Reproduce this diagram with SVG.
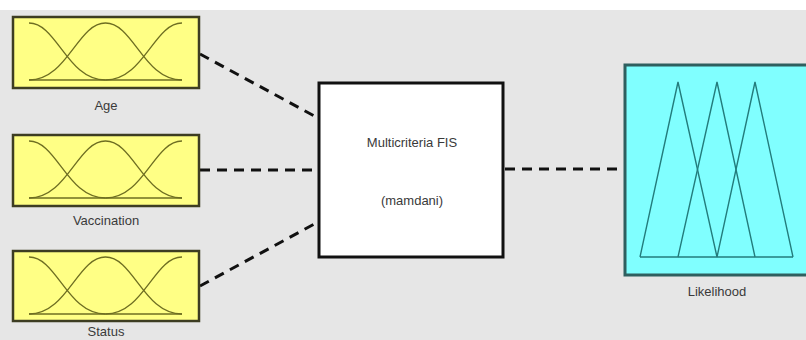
<svg xmlns="http://www.w3.org/2000/svg" width="806" height="340" viewBox="0 0 806 340">
  <style>
    .in-box { fill: #ffff85; stroke: #3d3d22; stroke-width: 2.5; }
    .mf { fill: none; stroke: #6e6e22; stroke-width: 1.3; }
    .out-box { fill: #80ffff; stroke: #2f5f5f; stroke-width: 3; }
    .tri { fill: none; stroke: #237c7c; stroke-width: 1.4; }
    .fis-box { fill: #ffffff; stroke: #111111; stroke-width: 3; }
    .label { font-family: "Liberation Sans", Arial, sans-serif; font-size: 13px; fill: #3a3a3a; text-anchor: middle; }
    .link { fill: none; stroke: #111111; stroke-width: 3; stroke-dasharray: 10 7; }
  </style>
  <defs>
    <!-- three gaussian membership functions, relative to the box's top-left corner -->
    <g id="gauss3">
      <path class="mf" d="M16,6 C44,6 54,63 92.5,63"/>
      <path class="mf" d="M16,63 C54.5,63 64.5,6 92.5,6 C120.5,6 130.5,63 169,63"/>
      <path class="mf" d="M92.5,63 C131,63 141,6 169,6"/>
      <path class="mf" d="M16,63 H169"/>
    </g>
  </defs>

  <!-- canvas -->
  <rect x="0" y="0" width="806" height="340" fill="#ffffff"/>
  <rect x="0" y="10" width="806" height="330" fill="#e6e6e6"/>

  <!-- connectors -->
  <g id="connectors">
    <path class="link" d="M200,54 L318,118"/>
    <path class="link" d="M200,170 L318,170"/>
    <path class="link" d="M200,286 L318,222"/>
    <path class="link" d="M505,169 L624,169"/>
  </g>

  <!-- input: Age -->
  <g id="age">
    <rect class="in-box" x="13" y="17" width="186" height="71"/>
    <use href="#gauss3" x="13" y="17"/>
    <text class="label" x="106" y="110">Age</text>
  </g>

  <!-- input: Vaccination -->
  <g id="vaccination">
    <rect class="in-box" x="13" y="135" width="186" height="71"/>
    <use href="#gauss3" x="13" y="135"/>
    <text class="label" x="106" y="225">Vaccination</text>
  </g>

  <!-- input: Status -->
  <g id="status">
    <rect class="in-box" x="13" y="251" width="186" height="70"/>
    <use href="#gauss3" x="13" y="251"/>
    <text class="label" x="106" y="336">Status</text>
  </g>

  <!-- inference system -->
  <g id="fis">
    <rect class="fis-box" x="319" y="83" width="184" height="174"/>
    <text class="label" x="412" y="147">Multicriteria FIS</text>
    <text class="label" x="412" y="205">(mamdani)</text>
  </g>

  <!-- output: Likelihood -->
  <g id="likelihood">
    <rect class="out-box" x="625" y="65" width="190" height="210"/>
    <path class="tri" d="M640,257 L678,82 L717,257"/>
    <path class="tri" d="M678,257 L717,82 L755,257"/>
    <path class="tri" d="M717,257 L755,82 L793,257"/>
    <path class="tri" d="M640,257 H793"/>
    <text class="label" x="717" y="296">Likelihood</text>
  </g>
</svg>
